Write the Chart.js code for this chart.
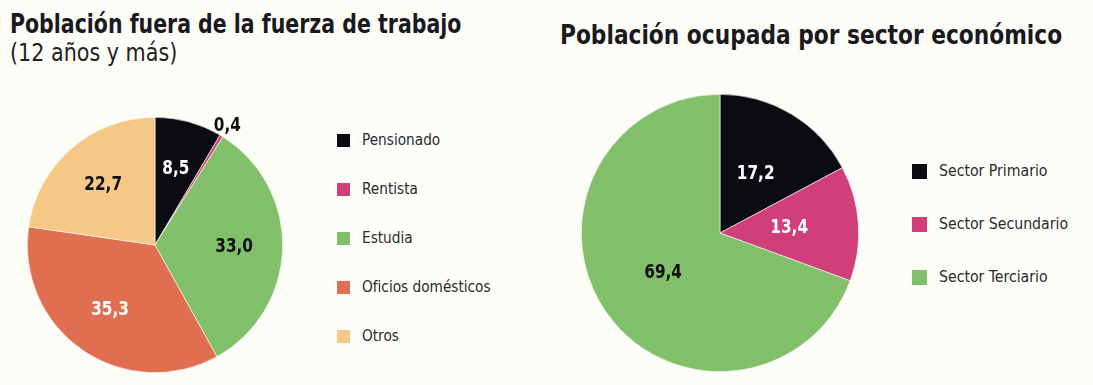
<!DOCTYPE html>
<html lang="es">
<head>
<meta charset="utf-8">
<script src="https://cdn.jsdelivr.net/npm/chart.js@4/dist/chart.umd.min.js"></script>
<style>
  html, body { margin: 0; padding: 0; }
  body {
    width: 1093px; height: 385px; position: relative; overflow: hidden;
    background: #fdfdf8; color: #1a1a1e;
    font-family: "DejaVu Sans Condensed", "Liberation Sans Narrow", sans-serif;
  }
  .title, .sub { position: absolute; white-space: nowrap; transform-origin: 0 0; }
  .title { font-weight: bold; font-size: 27px; }
  .sub { font-size: 25px; transform: scaleX(0.92); color: #222; }
  .box { position: absolute; }
  .legend { position: absolute; }
  .legend div { position: absolute; white-space: nowrap; color: #2a2a30; }
  .legend span { position: absolute; left: 0; }
  .legend b { font-weight: normal; position: absolute; top: 0; transform-origin: 0 0; transform: scaleX(0.95); }
</style>
</head>
<body>
<div class="title" style="left:10px; top:8px; transform:scaleX(0.844);">Población fuera de la fuerza de trabajo</div>
<div class="sub" style="left:10px; top:38px;">(12 años y más)</div>
<div class="title" style="left:560px; top:19px; transform:scaleX(0.895);">Población ocupada por sector económico</div>

<div class="box" style="left:24px; top:114px; width:262px; height:262px;"><canvas id="left"></canvas></div>
<div class="box" style="left:578px; top:91px; width:284px; height:284px;"><canvas id="right"></canvas></div>

<div class="legend" id="legend-left" style="left:337px; top:0;"></div>
<div class="legend" id="legend-right" style="left:912px; top:0;"></div>

<script>
// Población fuera de la fuerza de trabajo (%)
const labelsFuera = ["Pensionado", "Rentista", "Estudia", "Oficios domésticos", "Otros"];
const valuesFuera = [8.5, 0.4, 33.0, 35.3, 22.7];
const colorsFuera = ["#0b0b12", "#d13f7a", "#82bf6a", "#e06f52", "#f5c888"];
const textFuera = ["#ffffff", "#111111", "#111111", "#ffffff", "#111111"];

// Población ocupada por sector económico (%)
const labelsSector = ["Sector Primario", "Sector Secundario", "Sector Terciario"];
const valuesSector = [17.2, 13.4, 69.4];
const colorsSector = ["#0b0b12", "#d13f7a", "#82bf6a"];
const textSector = ["#ffffff", "#ffffff", "#111111"];

const fmt = (v) => v.toFixed(1).replace(".", ",");

// writes the value on each slice; tiny slices get their number outside the rim
const sliceLabels = {
  id: "sliceLabels",
  afterDatasetsDraw(chart, args, opts) {
    const { ctx } = chart;
    const ds = chart.data.datasets[0];
    chart.getDatasetMeta(0).data.forEach((arc, i) => {
      const v = ds.data[i];
      const mid = (arc.startAngle + arc.endAngle) / 2;
      const small = v < 2;
      const r = arc.outerRadius * (small ? 1.09 : opts.ratio);
      const x = arc.x + Math.cos(mid) * r;
      const y = arc.y + Math.sin(mid) * r;
      ctx.save();
      ctx.translate(x, y);
      ctx.scale(0.85, 1);
      ctx.font = "bold 20px 'DejaVu Sans Condensed', sans-serif";
      ctx.fillStyle = small ? "#111111" : opts.colors[i];
      ctx.textAlign = "center";
      ctx.textBaseline = "middle";
      ctx.fillText(fmt(v), 0, 0);
      ctx.restore();
    });
  },
};

function buildPie(id, labels, values, colors, textColors, ratio, pad) {
  return new Chart(document.getElementById(id), {
    type: "pie",
    data: {
      labels: labels,
      datasets: [{
        data: values,
        backgroundColor: colors,
        borderColor: "#fdfdf8",
        borderWidth: 0.6,
      }],
    },
    options: {
      responsive: true,
      maintainAspectRatio: false,
      animation: false,
      layout: { padding: pad },
      plugins: {
        legend: { display: false },
        tooltip: { enabled: false },
        sliceLabels: { ratio: ratio, colors: textColors },
      },
    },
    plugins: [sliceLabels],
  });
}

function buildLegend(id, labels, colors, top, gap, boxSize, fontSize) {
  const el = document.getElementById(id);
  labels.forEach((name, i) => {
    const row = document.createElement("div");
    row.style.top = (top + i * gap) + "px";
    row.style.fontSize = fontSize + "px";
    row.innerHTML =
      `<span style="width:${boxSize}px;height:${boxSize}px;background:${colors[i]};top:${-boxSize / 2}px"></span>` +
      `<b style="left:${boxSize + 12}px;top:${-fontSize * 0.62}px">${name}</b>`;
    el.appendChild(row);
  });
}

buildPie("left", labelsFuera, valuesFuera, colorsFuera, textFuera, 0.62, 3);
buildPie("right", labelsSector, valuesSector, colorsSector, textSector, 0.5, 3);
buildLegend("legend-left", labelsFuera, colorsFuera, 140, 49, 13, 16);
buildLegend("legend-right", labelsSector, colorsSector, 171, 53, 15, 16.5);
</script>
</body>
</html>
